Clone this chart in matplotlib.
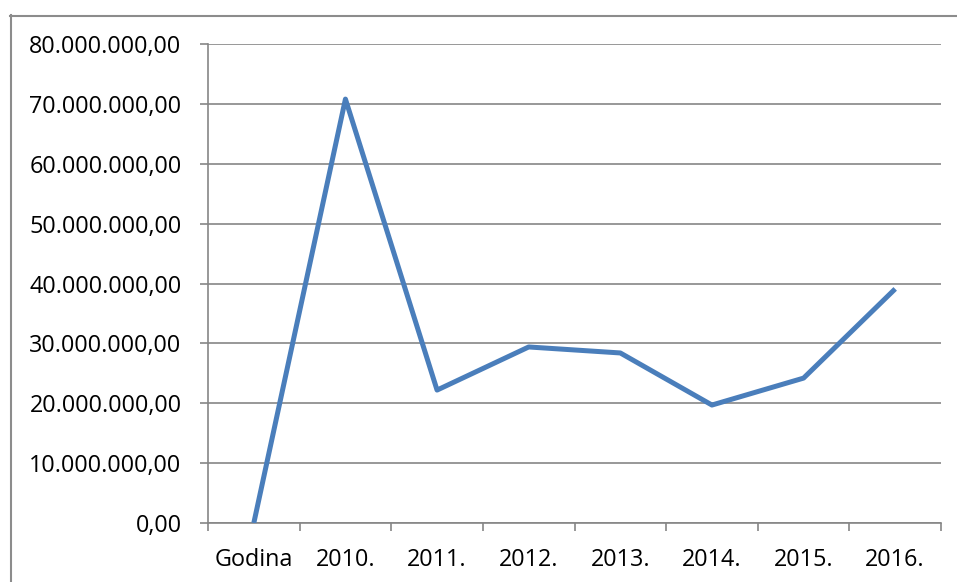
import matplotlib
matplotlib.use("Agg")
import matplotlib.pyplot as plt
from matplotlib.lines import Line2D
from matplotlib.ticker import FixedLocator, FuncFormatter

categories = ["Godina", "2010.", "2011.", "2012.", "2013.", "2014.", "2015.", "2016."]
values = [0, 70.8e6, 22.2e6, 29.4e6, 28.4e6, 19.7e6, 24.2e6, 39.1e6]
y_ticks = [0, 10e6, 20e6, 30e6, 40e6, 50e6, 60e6, 70e6, 80e6]

plt.rcParams['font.family'] = ['Open Sans', 'DejaVu Sans']

fig = plt.figure(figsize=(9.57, 5.82), dpi=100)
ax = fig.add_axes([208/957, 1-523/582, (941-208)/957, (523-44)/582])

x = list(range(len(categories)))
ax.plot(x, values, color='#4a7ebb', linewidth=3.6, solid_joinstyle='round', solid_capstyle='butt', zorder=3)

ax.set_xlim(-0.5, len(categories) - 0.5)
ax.set_ylim(0, 80e6)

grid_c = '#868686'
ax.set_yticks(y_ticks)
def fmt(v, pos):
    s = f"{v:,.2f}"
    return s.replace(",", "X").replace(".", ",").replace("X", ".")
ax.yaxis.set_major_formatter(FuncFormatter(fmt))
ax.yaxis.grid(True, color=grid_c, linewidth=1.2)
ax.set_axisbelow(True)

ax.set_xticks(x)
ax.set_xticklabels(categories)
ax.xaxis.set_minor_locator(FixedLocator([i - 0.5 for i in range(len(categories) + 1)]))
ax.tick_params(axis='x', which='major', length=0, pad=18, labelsize=16.8, colors='black')
ax.tick_params(axis='x', which='minor', length=6, width=1.2, color=grid_c, direction='out')
ax.tick_params(axis='y', which='major', length=6, width=1.2, color=grid_c, pad=13, labelsize=16.8)

for s in ['top', 'right']:
    ax.spines[s].set_visible(False)
ax.spines['left'].set_color(grid_c)
ax.spines['bottom'].set_color(grid_c)
ax.spines['left'].set_linewidth(1.2)
ax.spines['bottom'].set_linewidth(1.2)

bc = '#8c8c8c'
fig.add_artist(Line2D([10.5/957, 10.5/957], [0, 1-15/582], transform=fig.transFigure, color=bc, linewidth=1.5))
fig.add_artist(Line2D([10/957, 1], [1-15.5/582, 1-15.5/582], transform=fig.transFigure, color=bc, linewidth=1.5))

fig.savefig("out.png", dpi=100)
